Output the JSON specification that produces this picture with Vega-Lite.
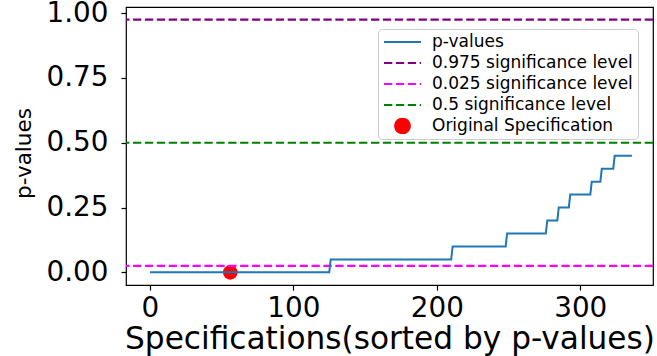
{
  "$schema": "https://vega.github.io/schema/vega-lite/v6.json",
  "width": 527,
  "height": 278,
  "autosize": "none",
  "padding": {"left": 126, "top": 7, "right": 4, "bottom": 71},
  "background": "white",
  "config": {
    "font": "DejaVu Sans",
    "view": {"stroke": "#000", "strokeWidth": 1.2},
    "axis": {
      "grid": false, "domain": false, "tickColor": "#000", "tickSize": 5, "tickWidth": 1.2,
      "labelColor": "#000", "titleColor": "#000", "labelFont": "DejaVu Sans", "titleFont": "DejaVu Sans",
      "labelFontSize": 27.8, "titleFontSize": 30.6, "titleFontWeight": "normal"
    },
    "legend": {
      "orient": "none", "legendX": 252, "legendY": 22,
      "title": null, "labelFontSize": 17, "labelFont": "DejaVu Sans", "labelColor": "#000", "labelLimit": 400,
      "symbolStrokeWidth": 2, "clipHeight": 16, "symbolOpacity": 1,
      "rowPadding": 4, "labelOffset": 10, "padding": 5,
      "strokeColor": "#cccccc", "fillColor": "rgba(255,255,255,0.8)", "cornerRadius": 4
    }
  },
  "datasets": {
    "levels": [
      {"level": 0.975, "series": "0.975 significance level"},
      {"level": 0.025, "series": "0.025 significance level"},
      {"level": 0.5, "series": "0.5 significance level"}
    ],
    "pvals": [
      {"spec": 0, "p": 0}, {"spec": 125, "p": 0},
      {"spec": 126, "p": 0.05}, {"spec": 210, "p": 0.05},
      {"spec": 211, "p": 0.10}, {"spec": 248, "p": 0.10},
      {"spec": 249, "p": 0.15}, {"spec": 276, "p": 0.15},
      {"spec": 277, "p": 0.20}, {"spec": 284, "p": 0.20},
      {"spec": 285, "p": 0.25}, {"spec": 292, "p": 0.25},
      {"spec": 293, "p": 0.30}, {"spec": 307, "p": 0.30},
      {"spec": 308, "p": 0.35}, {"spec": 314, "p": 0.35},
      {"spec": 315, "p": 0.40}, {"spec": 323, "p": 0.40},
      {"spec": 324, "p": 0.45}, {"spec": 336, "p": 0.45}
    ],
    "orig": [
      {"spec": 56, "p": 0, "series": "Original Specification"}
    ]
  },
  "layer": [
    {
      "data": {"name": "orig"},
      "mark": {"type": "point", "filled": true, "opacity": 1},
      "encoding": {
        "x": {"field": "spec", "type": "quantitative", "scale": {"domain": [-16.7, 350.7], "nice": false, "zero": false},
              "axis": {"values": [0, 100, 200, 300], "title": "Specifications(sorted by p-values)", "labelPadding": 4, "titlePadding": 2, "titleFontSize": 31.2}},
        "y": {"field": "p", "type": "quantitative", "scale": {"domain": [-0.04875, 1.02375], "nice": false, "zero": false},
              "axis": {"values": [0, 0.25, 0.5, 0.75, 1], "format": ".2f", "title": "p-values", "labelPadding": 13, "titlePadding": 11, "titleFontSize": 21.5, "titleY": 146}},
        "color": {
          "field": "series", "type": "nominal",
          "scale": {
            "domain": ["p-values", "0.975 significance level", "0.025 significance level", "0.5 significance level", "Original Specification"],
            "range": ["#1f77b4", "#800080", "#ff00ff", "#008000", "#ff0000"]
          }
        },
        "shape": {
          "field": "series", "type": "nominal",
          "scale": {
            "domain": ["p-values", "0.975 significance level", "0.025 significance level", "0.5 significance level", "Original Specification"],
            "range": ["stroke", "stroke", "stroke", "stroke", "circle"]
          }
        },
        "size": {
          "field": "series", "type": "nominal",
          "scale": {
            "type": "ordinal",
            "domain": ["p-values", "0.975 significance level", "0.025 significance level", "0.5 significance level", "Original Specification"],
            "range": [1369, 1369, 1369, 1369, 215]
          }
        }
      }
    },
    {
      "data": {"name": "levels"},
      "mark": {"type": "rule", "strokeWidth": 2.2},
      "encoding": {
        "y": {"field": "level", "type": "quantitative"},
        "color": {"field": "series", "type": "nominal"},
        "strokeDash": {
          "field": "series", "type": "nominal",
          "scale": {
            "domain": ["p-values", "0.975 significance level", "0.025 significance level", "0.5 significance level", "Original Specification"],
            "range": [[1, 0], [8.3, 3.6], [8.3, 3.6], [8.3, 3.6], [1, 0]]
          }
        }
      }
    },
    {
      "data": {"name": "pvals"},
      "transform": [{"calculate": "'p-values'", "as": "series"}],
      "mark": {"type": "line", "strokeWidth": 2},
      "encoding": {
        "x": {"field": "spec", "type": "quantitative"},
        "y": {"field": "p", "type": "quantitative"},
        "color": {"field": "series", "type": "nominal"},
        "strokeDash": {"field": "series", "type": "nominal"}
      }
    }
  ]
}
